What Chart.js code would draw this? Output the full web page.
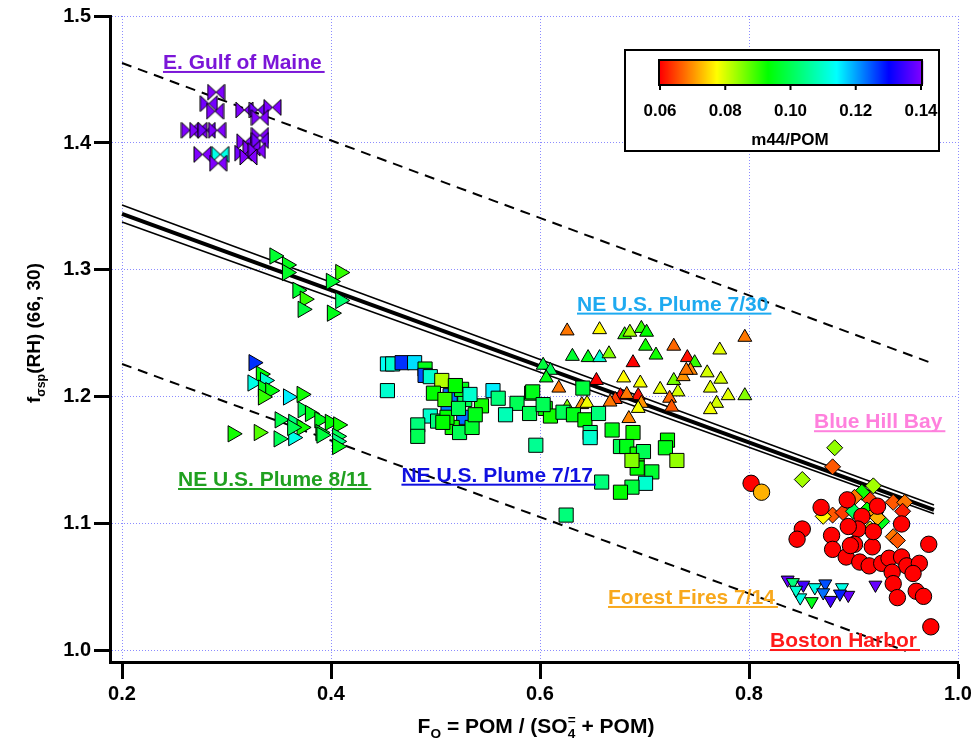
<!DOCTYPE html>
<html><head><meta charset="utf-8">
<script src="https://cdn.jsdelivr.net/npm/chart.js@4.4.1/dist/chart.umd.min.js"></script>
<style>html,body{margin:0;padding:0;background:#fff;}canvas{display:block;}</style>
</head><body>
<canvas id="c" width="977" height="747"></canvas>
<script>
// ---------------- data ----------------
const xTicks = [0.2, 0.4, 0.6, 0.8, 1.0];
const yTicks = [1.0, 1.1, 1.2, 1.3, 1.4, 1.5];
const cbarTicks = [0.06, 0.08, 0.10, 0.12, 0.14];

// E. Gulf of Maine (bowties)
const gulfX = [0.290,0.283,0.289,0.317,0.330,0.344,0.332,0.265,0.273,0.281,0.291,0.277,0.294,0.292,0.318,0.316,0.324,0.332,0.332,0.329,0.321];
const gulfY = [1.440,1.431,1.425,1.426,1.426,1.428,1.420,1.410,1.410,1.410,1.410,1.391,1.391,1.384,1.401,1.392,1.396,1.406,1.402,1.394,1.389];
const gulfC = [0.140,0.139,0.140,0.140,0.139,0.140,0.140,0.140,0.140,0.139,0.140,0.140,0.112,0.140,0.140,0.139,0.140,0.140,0.139,0.140,0.140];

// NE U.S. Plume 8/11 (right triangles)
const p811X = [0.346,0.358,0.358,0.409,0.400,0.368,0.375,0.373,0.409,0.401,
  0.326,0.333,0.325,0.337,0.335,0.342,0.335,0.359,0.372,0.373,0.380,0.351,0.364,0.389,0.399,0.407,0.372,0.306,0.331,0.350,0.364,0.390,0.391,0.406,0.406,0.406,0.363];
const p811Y = [1.311,1.304,1.298,1.298,1.291,1.284,1.277,1.269,1.276,1.266,
  1.227,1.218,1.211,1.213,1.207,1.205,1.200,1.200,1.202,1.190,1.187,1.182,1.180,1.182,1.180,1.178,1.176,1.171,1.172,1.167,1.168,1.172,1.170,1.169,1.165,1.161,1.176];
const p811C = [0.097,0.095,0.096,0.090,0.097,0.097,0.090,0.098,0.102,0.095,
  0.127,0.093,0.112,0.110,0.095,0.094,0.090,0.115,0.092,0.100,0.095,0.099,0.103,0.095,0.093,0.092,0.092,0.092,0.088,0.100,0.112,0.096,0.098,0.100,0.104,0.095,0.100];

// NE U.S. Plume 7/17 (squares)
const p717X = [0.454,0.459,0.468,0.480,0.490,0.490,0.495,0.506,0.454,0.498,0.514,0.528,0.525,0.512,0.527,0.544,0.555,0.560,0.578,0.592,
  0.590,0.567,0.495,0.502,0.483,0.483,0.516,0.523,0.535,0.511,0.605,0.610,0.596,0.507,0.593,0.622,0.632,0.641,0.643,0.656,
  0.648,0.648,0.669,0.689,0.677,0.683,0.693,0.699,0.722,0.720,0.731,0.693,0.707,0.701,0.688,0.677,0.659,0.688,0.603,0.625,
  0.519,0.533,0.509,0.522,0.538];
const p717Y = [1.226,1.226,1.227,1.227,1.222,1.217,1.216,1.213,1.205,1.203,1.201,1.198,1.206,1.191,1.184,1.193,1.205,1.199,1.195,1.203,
  1.187,1.186,1.185,1.181,1.178,1.169,1.176,1.172,1.176,1.184,1.191,1.185,1.162,1.180,1.204,1.188,1.186,1.207,1.182,1.187,
  1.172,1.168,1.174,1.172,1.161,1.161,1.155,1.157,1.166,1.160,1.150,1.144,1.141,1.132,1.129,1.125,1.133,1.150,1.194,1.107,
  1.209,1.202,1.198,1.191,1.186];
const p717C = [0.113,0.110,0.127,0.116,0.095,0.125,0.110,0.082,0.110,0.093,0.123,0.100,0.095,0.122,0.123,0.092,0.115,0.103,0.100,0.095,
  0.100,0.108,0.110,0.103,0.103,0.100,0.092,0.100,0.097,0.093,0.093,0.092,0.105,0.093,0.095,0.100,0.095,0.098,0.093,0.103,
  0.103,0.110,0.095,0.092,0.100,0.095,0.092,0.100,0.093,0.095,0.084,0.093,0.097,0.110,0.098,0.093,0.103,0.085,0.100,0.103,
  0.093,0.110,0.090,0.100,0.095];

// NE U.S. Plume 7/30 (up triangles)
const p730X = [0.626,0.657,0.681,0.686,0.697,0.702,0.701,0.728,0.796,0.631,0.646,0.657,0.666,0.689,0.711,0.741,0.748,0.772,0.603,0.610,
  0.606,0.618,0.654,0.680,0.696,0.728,0.737,0.744,0.760,0.773,0.763,0.780,0.796,0.769,0.763,0.715,0.732,0.677,0.694,0.683,
  0.672,0.667,0.697,0.694,0.724,0.726,0.685,0.640,0.645,0.626,0.740];
const p730Y = [1.252,1.253,1.249,1.251,1.254,1.251,1.240,1.240,1.247,1.232,1.231,1.231,1.234,1.227,1.233,1.231,1.227,1.237,1.225,1.221,
  1.215,1.207,1.213,1.215,1.211,1.213,1.216,1.221,1.219,1.214,1.207,1.201,1.201,1.195,1.190,1.206,1.204,1.201,1.201,1.202,
  1.198,1.196,1.195,1.191,1.199,1.192,1.183,1.194,1.195,1.192,1.221];
const p730C = [0.068,0.077,0.090,0.083,0.090,0.093,0.092,0.067,0.068,0.097,0.095,0.110,0.085,0.060,0.092,0.061,0.090,0.079,0.098,0.100,
  0.095,0.068,0.060,0.077,0.078,0.086,0.070,0.069,0.080,0.080,0.079,0.079,0.085,0.080,0.078,0.079,0.080,0.060,0.061,0.068,
  0.064,0.068,0.070,0.078,0.067,0.066,0.069,0.070,0.078,0.085,0.068];

// Blue Hill Bay (diamonds)
const bhbX = [0.882,0.880,0.851,0.919,0.908,0.901,0.916,0.938,0.949,0.947,0.880,0.890,0.900,0.913,0.921,0.927,0.871,0.916,0.938,0.942,0.923];
const bhbY = [1.160,1.145,1.135,1.130,1.125,1.121,1.119,1.117,1.117,1.110,1.107,1.109,1.110,1.111,1.109,1.102,1.106,1.096,1.090,1.087,1.105];
const bhbC = [0.084,0.066,0.083,0.083,0.092,0.068,0.064,0.066,0.068,0.062,0.066,0.064,0.100,0.093,0.070,0.095,0.077,0.078,0.068,0.066,0.072];

// Forest Fires 7/14 (down triangles)
const ffX = [0.837,0.842,0.852,0.863,0.873,0.871,0.849,0.860,0.878,0.889,0.895,0.921,0.887,0.845];
const ffY = [1.056,1.054,1.052,1.050,1.053,1.046,1.042,1.039,1.040,1.050,1.044,1.052,1.045,1.048];
const ffC = [0.138,0.103,0.135,0.112,0.125,0.123,0.112,0.095,0.135,0.112,0.138,0.138,0.128,0.110];

// Boston Harbor (circles)
const bosX = [0.802,0.812,0.851,0.846,0.869,0.894,0.923,0.908,0.904,0.946,0.879,0.880,0.901,0.918,0.972,0.893,0.906,0.915,0.927,0.934,0.946,0.951,0.963,0.957,0.937,0.938,0.942,0.960,0.967,0.974,0.897,0.895,0.919];
const bosY = [1.132,1.125,1.096,1.088,1.113,1.119,1.114,1.106,1.096,1.100,1.091,1.080,1.084,1.082,1.084,1.074,1.070,1.067,1.069,1.073,1.074,1.067,1.069,1.061,1.062,1.053,1.042,1.047,1.043,1.019,1.083,1.098,1.094];
const bosC = [0.060,0.072,0.060,0.060,0.060,0.060,0.060,0.060,0.060,0.060,0.060,0.060,0.060,0.060,0.060,0.060,0.060,0.060,0.060,0.060,0.060,0.060,0.060,0.060,0.060,0.060,0.060,0.060,0.060,0.060,0.060,0.060,0.060];

// regression fit and bands
const fitX = [0.2, 0.977];
const fitY = [1.3441, 1.111];
const fitHiY = [1.3512, 1.115];
const fitLoY = [1.3378, 1.108];
const predHiX = [0.2, 0.977];
const predHiY = [1.463, 1.226];
const predLoX = [0.2, 0.950];
const predLoY = [1.226, 1.000];

const groupLabels = ['E. Gulf of Maine','NE U.S. Plume 7/30','NE U.S. Plume 8/11','NE U.S. Plume 7/17','Blue Hill Bay','Forest Fires 7/14','Boston Harbor'];

// ---------------- layout / style ----------------
const labelLayout = [
  {x:0.2392, y:1.4583, color:'#7b16d8'},
  {x:0.6354, y:1.2680, color:'#1eaaf0'},
  {x:0.2536, y:1.1299, color:'#20a020'},
  {x:0.4674, y:1.1333, color:'#1010e0'},
  {x:0.8622, y:1.1754, color:'#ff80dd'},
  {x:0.6651, y:1.0370, color:'#f8a81c'},
  {x:0.8201, y:1.0031, color:'#ff1a1a'}
];
const FONT = '"Liberation Sans", Arial, Helvetica, sans-serif';
const cmapStops = [0.06, 0.0773, 0.093, 0.114, 0.130, 0.14];
const cmapHues  = [0, 60, 120, 180, 240, 270];
function cmap(v){
  if (v <= cmapStops[0]) return 'hsl(0,100%,50%)';
  for (let i=1;i<cmapStops.length;i++){
    if (v <= cmapStops[i]){
      const t=(v-cmapStops[i-1])/(cmapStops[i]-cmapStops[i-1]);
      return 'hsl('+(cmapHues[i-1]+t*(cmapHues[i]-cmapHues[i-1])).toFixed(1)+',100%,50%)';
    }
  }
  return 'hsl(270,100%,50%)';
}
const bowCache = {};
function bowtie(color){
  if (bowCache[color]) return bowCache[color];
  const w=17,h=16, cv=document.createElement('canvas');
  cv.width=w+2; cv.height=h+2;
  const g=cv.getContext('2d');
  g.translate(1,1);
  g.beginPath();
  g.moveTo(0,0); g.lineTo(w/2,h/2); g.lineTo(0,h); g.closePath();
  g.moveTo(w,0); g.lineTo(w/2,h/2); g.lineTo(w,h); g.closePath();
  g.fillStyle=color; g.fill();
  g.strokeStyle='#000'; g.lineWidth=1; g.stroke();
  bowCache[color]=cv; return cv;
}
const pts = (xs,ys) => xs.map((x,i)=>({x:x,y:ys[i]}));
function markerSet(xs,ys,cs,style,radius,rotation){
  return {data:pts(xs,ys), showLine:false, pointStyle:style, pointRadius:radius, pointRotation:rotation||0,
    backgroundColor:cs.map(cmap), pointBackgroundColor:cs.map(cmap), pointBorderColor:'#000', pointBorderWidth:1, order:0};
}
function lineSet(xs,ys,w,dash){
  return {data:pts(xs,ys), showLine:true, pointRadius:0, borderColor:'#000', borderWidth:w, borderDash:dash||[], fill:false, order:5};
}

const datasets = [
  Object.assign(markerSet(gulfX,gulfY,gulfC,'circle',8), {pointStyle: gulfC.map(v=>bowtie(cmap(v)))}),
  markerSet(bosX,bosY,bosC,'circle',8.2),
  markerSet(bhbX,bhbY,bhbC,'rectRot',8),
  markerSet(ffX,ffY,ffC,'triangle',7.5,180),
  markerSet(p717X,p717Y,p717C,'rect',10),
  markerSet(p730X,p730Y,p730C,'triangle',8),
  markerSet(p811X,p811Y,p811C,'triangle',9.4,90),
  lineSet(fitX,fitHiY,1.6),
  lineSet(fitX,fitY,4),
  lineSet(fitX,fitLoY,1.6),
  lineSet(predHiX,predHiY,2,[10,7]),
  lineSet(predLoX,predLoY,2,[10,7])
];

function drawRuns(ctx, runs, cx, cy, size){
  // runs: [text, scale, dy, advance]
  let total=0, pending=0;
  const widths = runs.map(r=>{ctx.font='bold '+(size*r[1])+'px '+FONT; return ctx.measureText(r[0]).width;});
  runs.forEach((r,i)=>{ if(r[3]===false){pending=widths[i];} else {total+=Math.max(widths[i],pending); pending=0;} });
  let x=cx-total/2; pending=0;
  runs.forEach((r,i)=>{
    ctx.font='bold '+(size*r[1])+'px '+FONT;
    ctx.fillText(r[0], x, cy+r[2]);
    if(r[3]===false){pending=widths[i];} else {x+=Math.max(widths[i],pending); pending=0;}
  });
}

const decor = {
  id:'decor',
  afterDraw(chart){
    const ctx=chart.ctx, xs=chart.scales.x, ys=chart.scales.y;
    ctx.save();
    ctx.fillStyle='#000'; ctx.textAlign='left'; ctx.textBaseline='alphabetic';
    // x title
    drawRuns(ctx, [['F',1,0],['O',0.65,5],[' = POM / (SO',1,0],['4',0.65,5,false],['=',0.65,-9],[' + POM)',1,0]], 536, 733, 21);
    // y title
    ctx.save(); ctx.translate(40,333); ctx.rotate(-Math.PI/2);
    drawRuns(ctx, [['f',1,0],['\u03c3sp',0.65,5],['(RH) (66, 30)',1,0]], 0, 0, 19);
    ctx.restore();
    // group labels
    ctx.font='bold 21px '+FONT;
    groupLabels.forEach((t,i)=>{
      const L=labelLayout[i];
      const px=xs.getPixelForValue(L.x), py=ys.getPixelForValue(L.y);
      ctx.fillStyle=L.color;
      ctx.fillText(t,px,py);
      const w=ctx.measureText(t).width;
      ctx.fillRect(px,py+2,w+3,2);
    });
    // colour bar box
    const bx=625, by=50, bw=314, bh=101;
    ctx.fillStyle='#fff'; ctx.fillRect(bx,by,bw,bh);
    ctx.strokeStyle='#000'; ctx.lineWidth=2; ctx.strokeRect(bx,by,bw,bh);
    const c0=660, c1=921, ct=61, cb=84;
    for(let px=c0-1; px<=c1+1; px++){
      const v=cbarTicks[0]+(px-c0)/(c1-c0)*(cbarTicks[cbarTicks.length-1]-cbarTicks[0]);
      ctx.fillStyle=cmap(v); ctx.fillRect(px,ct,1.2,cb-ct);
    }
    ctx.strokeRect(c0-1,ct-1,c1-c0+2,cb-ct+2);
    ctx.fillStyle='#000'; ctx.textAlign='center';
    ctx.font='bold 17px '+FONT;
    cbarTicks.forEach(v=>{
      const px=c0+(v-cbarTicks[0])/(cbarTicks[cbarTicks.length-1]-cbarTicks[0])*(c1-c0);
      ctx.fillRect(px-1,cb+1,2,5);
      ctx.fillText(v.toFixed(2),px,116);
    });
    ctx.fillText('m44/POM',790,145);
    ctx.restore();
  }
};

const tickFont = {family:FONT, size:20, weight:'bold'};
new Chart(document.getElementById('c'), {
  type:'scatter',
  data:{datasets:datasets},
  options:{
    responsive:false, animation:false, devicePixelRatio:1, events:[],
    layout:{padding:{left:0,right:19,top:16,bottom:0}},
    plugins:{legend:{display:false}, tooltip:{enabled:false}},
    scales:{
      x:{type:'linear', min:0.1885, max:1.0,
        afterBuildTicks:s=>{s.ticks=xTicks.map(v=>({value:v}));},
        afterFit:s=>{s.height=85;},
        ticks:{font:tickFont, color:'#000', padding:3, maxRotation:0, autoSkip:false, callback:v=>Number(v).toFixed(1)},
        grid:{color:'#8c8cff', lineWidth:1, tickLength:17, tickWidth:3, tickColor:'#000', tickBorderDash:[]},
        border:{display:true, color:'#000', width:3, dash:[1,2]}
      },
      y:{type:'linear', min:0.9913, max:1.5,
        afterBuildTicks:s=>{s.ticks=yTicks.map(v=>({value:v}));},
        afterFit:s=>{s.width=110;},
        ticks:{font:tickFont, color:'#000', padding:3, autoSkip:false, callback:v=>Number(v).toFixed(1)},
        grid:{color:'#8c8cff', lineWidth:1, tickLength:16, tickWidth:3, tickColor:'#000', tickBorderDash:[]},
        border:{display:true, color:'#000', width:3, dash:[1,2]}
      }
    }
  },
  plugins:[decor]
});
</script>
</body></html>
